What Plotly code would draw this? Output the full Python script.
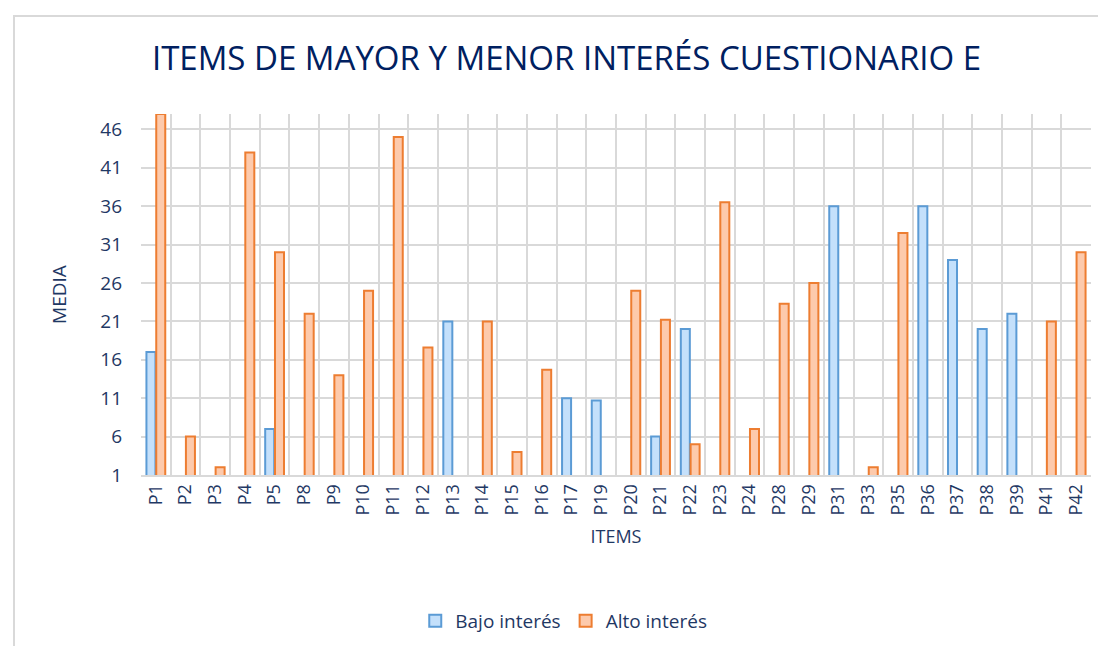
import plotly.graph_objects as go

items = ["P1", "P2", "P3", "P4", "P5", "P8", "P9", "P10", "P11", "P12",
         "P13", "P14", "P15", "P16", "P17", "P19", "P20", "P21", "P22", "P23",
         "P24", "P28", "P29", "P31", "P33", "P35", "P36", "P37", "P38", "P39",
         "P41", "P42"]

bajo_interes = [17, None, None, None, 7, None, None, None, None, None,
                21, None, None, None, 11, 10.7, None, 6, 20, None,
                None, None, None, 36, None, None, 36, 29, 20, 22,
                None, None]

alto_interes = [48, 6, 2, 43, 30, 22, 14, 25, 45, 17.6,
                None, 21, 4, 14.7, None, None, 25, 21.2, 5, 36.5,
                7, 23.3, 26, None, 2, 32.5, None, None, None, None,
                21, 30]

y_ticks = [1, 6, 11, 16, 21, 26, 31, 36, 41, 46]

navy = "#1F3864"
grid = "#D9D9D9"

fig = go.Figure()

fig.add_trace(go.Bar(
    name="Bajo interés",
    x=items,
    y=bajo_interes,
    marker=dict(color="#C4E0FB", line=dict(color="#5B9BD5", width=2)),
))

fig.add_trace(go.Bar(
    name="Alto interés",
    x=items,
    y=alto_interes,
    marker=dict(color="#FDCAAC", line=dict(color="#ED7D31", width=2)),
))

fig.update_layout(
    width=1106,
    height=646,
    barmode="group",
    bargap=0.34,
    bargroupgap=0.08,
    paper_bgcolor="white",
    plot_bgcolor="white",
    font=dict(family="Open Sans, sans-serif", color=navy),
    title=dict(
        text="ITEMS DE MAYOR Y MENOR INTERÉS CUESTIONARIO E",
        x=0.505, xanchor="center",
        y=1 - 50 / 646, yanchor="middle",
        font=dict(size=33, color="#002060"),
    ),
    margin=dict(l=133, r=23, t=106, b=179),
    xaxis=dict(
        title=dict(text="ITEMS", font=dict(size=18, color=navy), standoff=16),
        tickangle=-90,
        tickfont=dict(size=18, color=navy),
        tickson="boundaries",
        showgrid=True,
        gridcolor=grid,
        gridwidth=2,
        showline=True,
        linecolor=grid,
        linewidth=2,
        ticks="",
    ),
    yaxis=dict(
        title=dict(text="MEDIA", font=dict(size=19, color=navy), standoff=28),
        range=[1, 48],
        tickvals=y_ticks,
        tickfont=dict(size=19, color=navy),
        showgrid=True,
        gridcolor=grid,
        gridwidth=2,
        zeroline=False,
        ticklabelstandoff=18,
    ),
    legend=dict(
        orientation="h",
        x=0.445, xanchor="center",
        yref="container", y=1 - 613 / 646, yanchor="middle",
        font=dict(size=19, color=navy),
        traceorder="normal",
    ),
    shapes=[dict(
        type="rect", xref="paper", yref="paper",
        x0=(6 - 133) / 950, x1=1.1,
        y0=-0.6, y1=(467 - 8) / 361,
        line=dict(color=grid, width=2),
        fillcolor="rgba(0,0,0,0)",
        layer="below",
    )],
)

fig.write_html("out.html")
